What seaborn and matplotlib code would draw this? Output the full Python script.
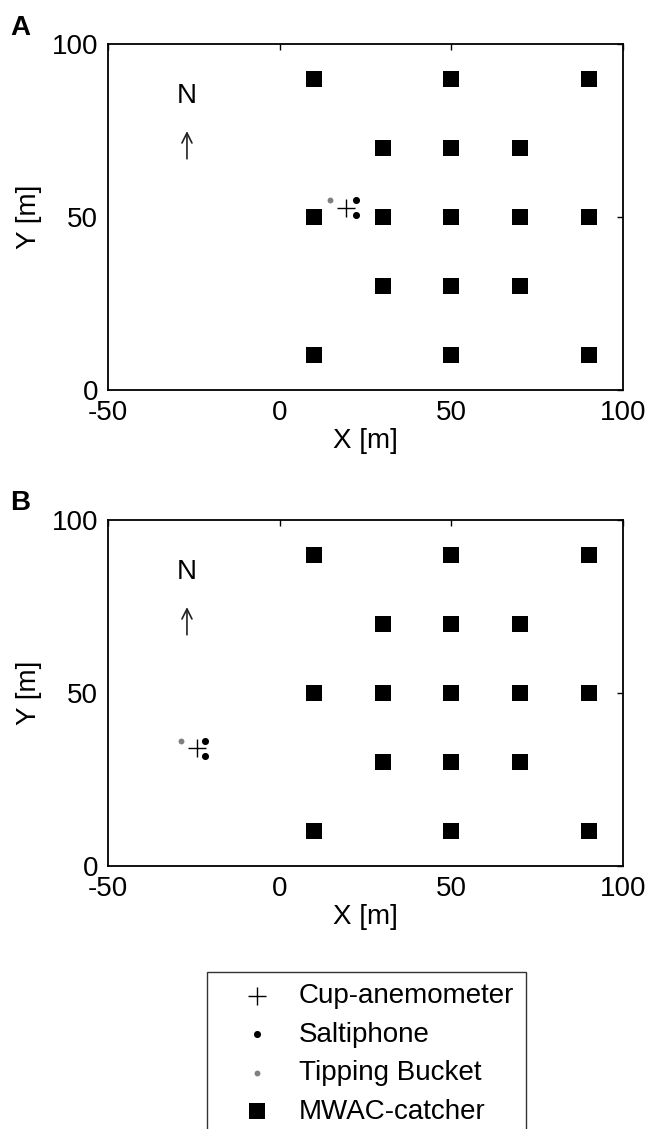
import matplotlib
matplotlib.use("Agg")
import matplotlib.pyplot as plt
import pandas as pd
import seaborn as sns


# MWAC catchers: same grid on both panels
MWAC_X = [10, 50, 90, 30, 50, 70, 10, 30, 50, 70, 90, 30, 50, 70, 10, 50, 90]
MWAC_Y = [90, 90, 90, 70, 70, 70, 50, 50, 50, 50, 50, 30, 30, 30, 10, 10, 10]

# panel A instruments
A_CUP_X, A_CUP_Y = [19.2], [52.6]
A_SALT_X, A_SALT_Y = [22.2, 22.2], [54.8, 50.6]
A_TIP_X, A_TIP_Y = [14.7], [54.9]

# panel B instruments
B_CUP_X, B_CUP_Y = [-24.0], [34.0]
B_SALT_X, B_SALT_Y = [-21.6, -21.6], [36.2, 31.9]
B_TIP_X, B_TIP_Y = [-28.7], [36.0]

X_TICKS = [-50, 0, 50, 100]
Y_TICKS = [0, 50, 100]
LEGEND_LABELS = ["Cup-anemometer", "Saltiphone", "Tipping Bucket", "MWAC-catcher"]

NORTH_X = -27
NORTH_LABEL_Y = 85
ARROW_Y = (66.8, 74.8)

GREY = "#808080"


def draw_panel(ax, cup, salt, tip):
    sns.scatterplot(x=cup[0], y=cup[1], marker="+", s=150, color="black",
                    linewidth=1.0, ax=ax, label=LEGEND_LABELS[0], legend=False)
    sns.scatterplot(x=salt[0], y=salt[1], marker="o", s=26, color="black",
                    linewidth=0, ax=ax, label=LEGEND_LABELS[1], legend=False)
    sns.scatterplot(x=tip[0], y=tip[1], marker="o", s=18, color=GREY,
                    linewidth=0, ax=ax, label=LEGEND_LABELS[2], legend=False)
    sns.scatterplot(x=MWAC_X, y=MWAC_Y, marker="s", s=140, color="black",
                    linewidth=0, ax=ax, label=LEGEND_LABELS[3], legend=False)

    ax.text(NORTH_X, NORTH_LABEL_Y, "N", ha="center", va="center", fontsize=20)
    ax.annotate("", xy=(NORTH_X, ARROW_Y[1]), xytext=(NORTH_X, ARROW_Y[0]),
                arrowprops=dict(arrowstyle="->", lw=1.2, color="#222222",
                                mutation_scale=18, shrinkA=0, shrinkB=0))

    ax.set_xlim(-50, 100)
    ax.set_ylim(0, 100)
    ax.set_xticks(X_TICKS)
    ax.set_yticks(Y_TICKS)
    ax.set_xlabel("X [m]", fontsize=20, labelpad=2)
    ax.set_ylabel("Y [m]", fontsize=20, labelpad=7)
    ax.tick_params(direction="in", top=True, right=True, length=4, width=1,
                   labelsize=20, pad=7, color="black", labelcolor="black")
    for sp in ax.spines.values():
        sp.set_visible(True)
        sp.set_color("black")
        sp.set_linewidth(1.3)


sns.set_theme(style="white")
plt.rcParams["font.family"] = ["Liberation Sans", "DejaVu Sans"]
plt.rcParams["axes.unicode_minus"] = False
plt.rcParams["text.color"] = "black"
plt.rcParams["axes.labelcolor"] = "black"

fig = plt.figure(figsize=(6.49, 11.29), dpi=100)
ax_a = fig.add_axes([0.1664, 0.6546, 0.7935, 0.3065])
ax_b = fig.add_axes([0.1664, 0.2330, 0.7935, 0.3065])

draw_panel(ax_a, (A_CUP_X, A_CUP_Y), (A_SALT_X, A_SALT_Y), (A_TIP_X, A_TIP_Y))
draw_panel(ax_b, (B_CUP_X, B_CUP_Y), (B_SALT_X, B_SALT_Y), (B_TIP_X, B_TIP_Y))

fig.text(10 / 649, 1 - 35 / 1129, "A", fontsize=20, fontweight="bold")
fig.text(10 / 649, 1 - 510 / 1129, "B", fontsize=20, fontweight="bold")

handles, labels = ax_a.get_legend_handles_labels()
leg = fig.legend(handles, labels, loc="upper center",
                 bbox_to_anchor=(0.5647, 1 - 972 / 1129),
                 fontsize=20, frameon=True, fancybox=False, shadow=False,
                 borderpad=0.4, handlelength=2.8, handletextpad=0.1,
                 labelspacing=0.45, borderaxespad=0)
leg.get_frame().set_edgecolor("black")
leg.get_frame().set_linewidth(1.0)

fig.savefig("out.png", dpi=100, facecolor="white")
